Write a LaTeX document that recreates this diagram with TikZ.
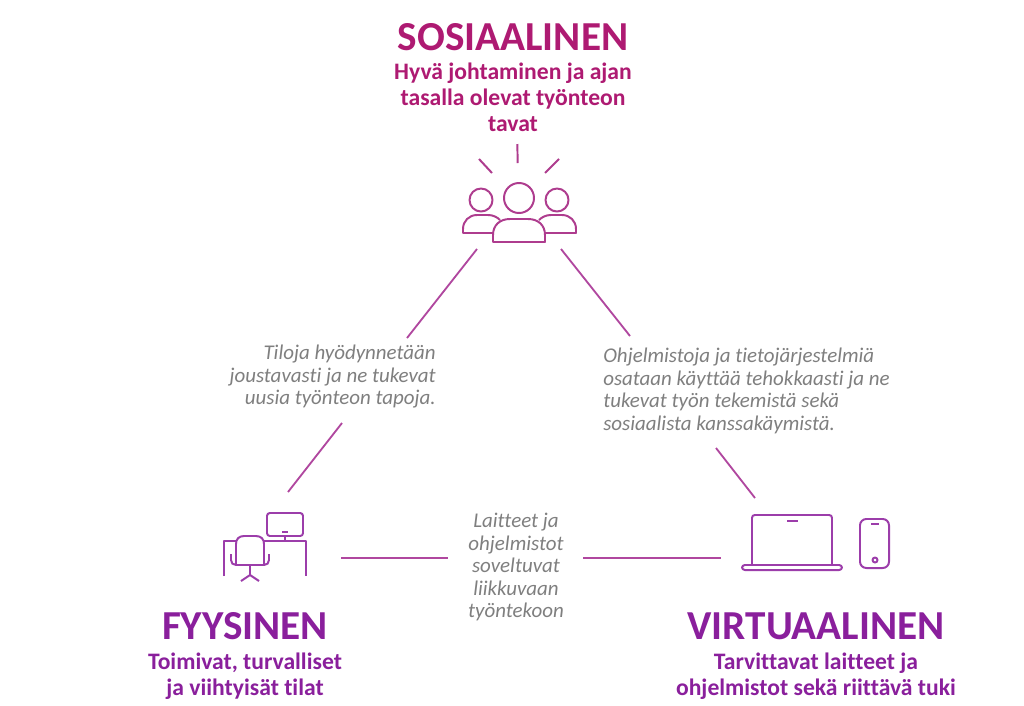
\documentclass[tikz,border=0pt]{standalone}
\usepackage{fontspec}
\setmainfont[Ligatures=NoCommon]{Carlito}
\usepackage{xcolor}
\definecolor{sosiaalicol}{HTML}{AE1A72}
\definecolor{fyysinencol}{HTML}{8A1F9C}
\definecolor{linecol}{HTML}{B0479F}
\definecolor{peoplecol}{HTML}{AE3C8E}
\definecolor{iconcol}{HTML}{9C3DAA}
\definecolor{notecol}{HTML}{7F7F7F}
\usetikzlibrary{positioning}
\tikzset{
	heading/.style={font=\fontsize{29.3}{32}\selectfont\bfseries, inner sep=0pt},
	subhead/.style={font=\fontsize{16.8}{18.4}\selectfont\bfseries, align=center, inner sep=0pt},
	note/.style={font=\fontsize{14.9}{16}\selectfont\itshape, text=notecol, inner sep=0pt},
	connector/.style={linecol, line width=1.3pt},
	iconline/.style={line width=1.4pt, line join=round}
}

\begin{document}
\begin{tikzpicture}[x=0.25mm, y=-0.25mm]
	\useasboundingbox[fill=white] (0,0) rectangle (1024,705);
	% headings
	\node[heading, text=sosiaalicol] (sosiaalinen) at (513,37) {SOSIAALINEN};
	\node[subhead, text=sosiaalicol, below=8.6pt of sosiaalinen] (sosiaalitext) {Hyvä johtaminen ja ajan\\tasalla olevat työnteon\\tavat};
	\node[heading, text=fyysinencol] (fyysinen) at (245,626) {FYYSINEN};
	\node[subhead, text=fyysinencol, below=9pt of fyysinen] (fyysitext) {Toimivat, turvalliset\\ja viihtyisät tilat};
	\node[heading, text=fyysinencol] (virtuaalinen) at (816,626) {VIRTUAALINEN};
	\node[subhead, text=fyysinencol, below=9pt of virtuaalinen] (virtuaalitext) {Tarvittavat laitteet ja\\ohjelmistot sekä riittävä tuki};
	% notes on the sides
	\node[note, align=right, anchor=east] (tilanote) at (436,377) {Tiloja hyödynnetään\\joustavasti ja ne tukevat\\uusia työnteon tapoja.};
	\node[note, align=left, anchor=west] (ohjelmanote) at (603,391) {Ohjelmistoja ja tietojärjestelmiä\\osataan käyttää tehokkaasti ja ne\\tukevat työn tekemistä sekä\\sosiaalista kanssakäymistä.};
	\node[note, align=center] (laitenote) at (516,567) {Laitteet ja\\ohjelmistot\\soveltuvat\\liikkuvaan\\työntekoon};
	% connector ends
	\coordinate (peopleleft) at (477,249);
	\coordinate (peopleright) at (561,249);
	\coordinate (tilatop) at (407,338);
	\coordinate (tilabottom) at (342,423);
	\coordinate (desktop) at (288,492);
	\coordinate (ohjelmatop) at (630,336);
	\coordinate (ohjelmabottom) at (716,448);
	\coordinate (laptoptop) at (755,498);
	\coordinate (deskright) at (341,558);
	\coordinate (laiteleft) at (448,558);
	\coordinate (laiteright) at (583,558);
	\coordinate (laptopleft) at (721,558);
	\draw[connector] (peopleleft) -- (tilatop);
	\draw[connector] (tilabottom) -- (desktop);
	\draw[connector] (peopleright) -- (ohjelmatop);
	\draw[connector] (ohjelmabottom) -- (laptoptop);
	\draw[connector] (deskright) -- (laiteleft);
	\draw[connector] (laiteright) -- (laptopleft);
	% people
	\begin{scope}[iconline, peoplecol]
		\draw (517.4,144) -- (517.6,163);
		\draw (479,159) -- (492,173);
		\draw (559,159) -- (545,173);
		\draw (519,198) circle [radius=15*0.25mm];
		\draw (481,200) circle [radius=11.5*0.25mm];
		\draw (557,200) circle [radius=11.5*0.25mm];
		\draw (493,242) -- (493,235) .. controls (493,225) and (500,219) .. (510,219) -- (528,219) .. controls (538,219) and (545,225) .. (545,235) -- (545,242) -- cycle;
		\draw (493,233) -- (463,233) -- (463,229) .. controls (463,221) and (469,215) .. (477,215) -- (488,215) .. controls (493,215) and (497,217) .. (500,220);
		\draw (545,233) -- (576,233) -- (576,229) .. controls (576,221) and (570,215) .. (562,215) -- (551,215) .. controls (546,215) and (542,217) .. (539,220);
	\end{scope}
	% desk and chair
	\begin{scope}[iconline, iconcol]
		\draw[rounded corners=2pt] (267,513) rectangle (303,536);
		\draw (282,532) -- (288,532);
		\draw (285,536) -- (285,541);
		\draw (224,576) -- (224,541) -- (236,541);
		\draw (264,541) -- (306,541) -- (306,576);
		\draw (236,565) -- (236,544) .. controls (236,539) and (239,536) .. (244,536) -- (256,536) .. controls (261,536) and (264,539) .. (264,544) -- (264,565) -- cycle;
		\draw (231,554) -- (231,560) .. controls (231,563) and (233,565) .. (236,565);
		\draw (269,554) -- (269,560) .. controls (269,563) and (267,565) .. (264,565);
		\draw (250,565) -- (250,575);
		\draw (241,581) -- (250,575) -- (259,581);
	\end{scope}
	% laptop and phone
	\begin{scope}[iconline, iconcol]
		\draw (752,565) -- (752,518) .. controls (752,516) and (753,515) .. (755,515) -- (829,515) .. controls (831,515) and (832,516) .. (832,518) -- (832,565);
		\draw (787,521) -- (798,521);
		\draw[rounded corners=2pt] (742,565) rectangle (842,570);
		\draw[rounded corners=4.5pt] (860,519) rectangle (889,568);
		\draw (871,524) -- (879,524);
		\draw (875,560) circle [radius=2.5*0.25mm];
	\end{scope}
\end{tikzpicture}
\end{document}
